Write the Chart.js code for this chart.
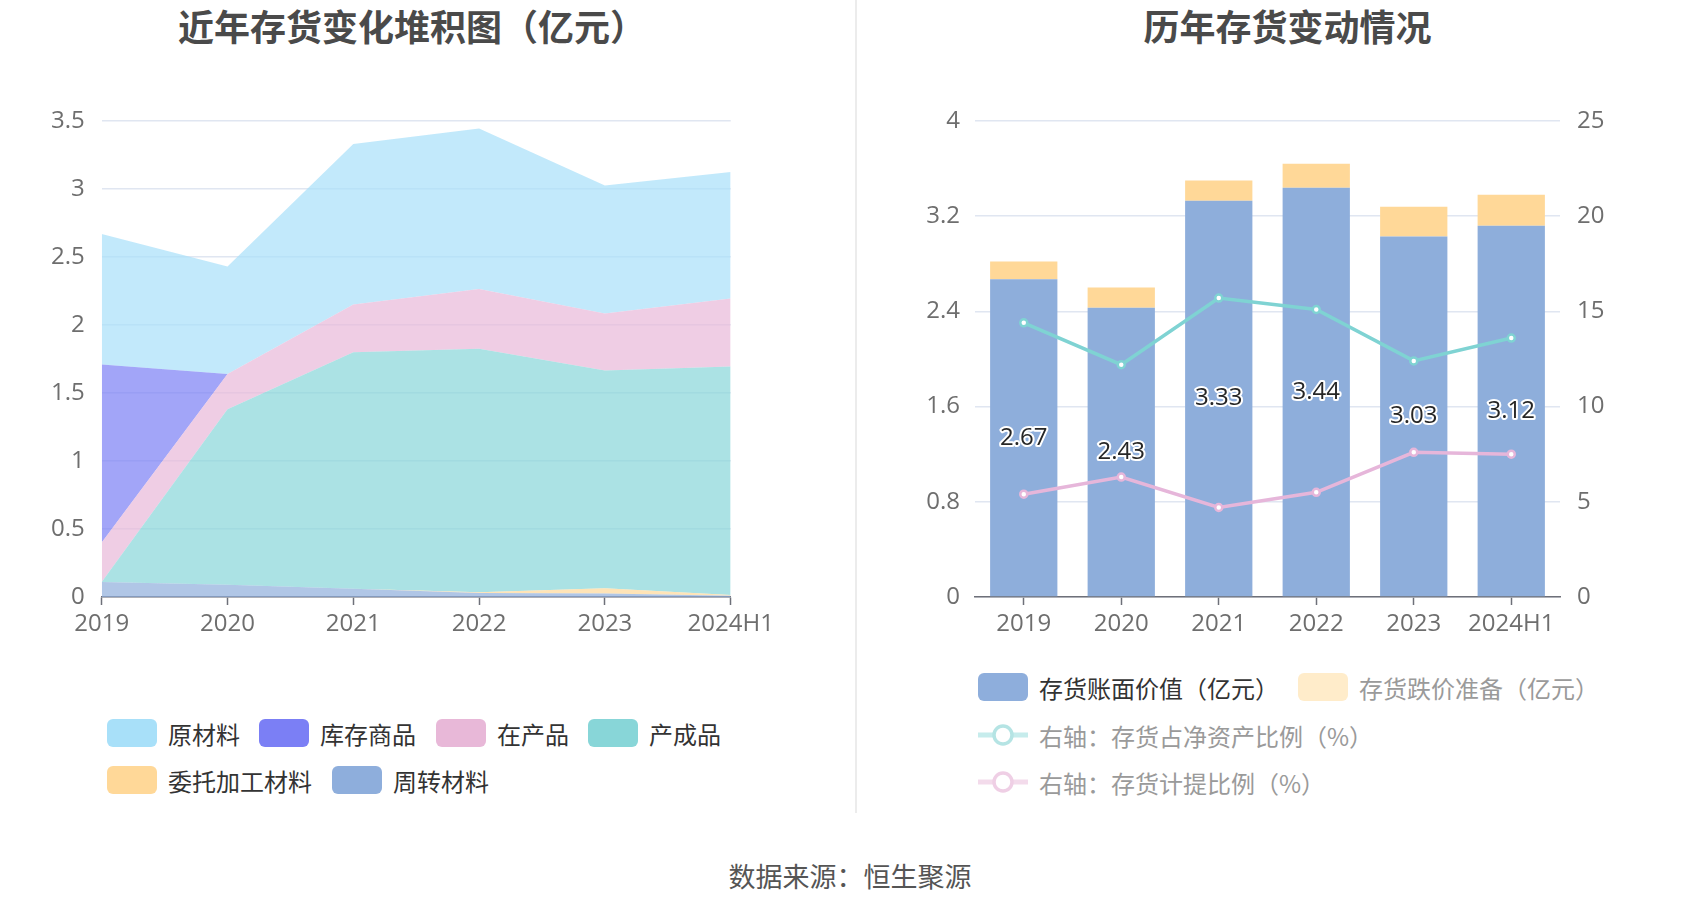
<!DOCTYPE html>
<html>
<head>
<meta charset="utf-8">
<script src="https://cdn.jsdelivr.net/npm/chart.js@4.4.1/dist/chart.umd.min.js"></script>
<style>
    html, body { margin: 0; padding: 0; background: #fff; }
    body { width: 1700px; height: 918px; position: relative; overflow: hidden;
           font-family: "Noto Sans CJK SC", "Open Sans", sans-serif; }
    .title { position: absolute; top: 0; height: 50px; line-height: 50px; text-align: center;
             font-size: 36px; font-weight: bold; color: #4a4a4a; }
    .chartBox { position: absolute; top: 0; height: 660px; }
    .divider { position: absolute; left: 855px; top: 0; width: 1.5px; height: 813px; background: #ececec; }
    .item { position: absolute; height: 30px; display: flex; align-items: center;
            font-size: 24px; color: #333; white-space: nowrap; }
    .item .box { width: 50px; height: 28px; border-radius: 6px; margin-right: 11px; }
    .item svg { margin-right: 11px; }
    .faded { color: #9a9a9a; }
    .source { position: absolute; left: 0; width: 1700px; top: 856px; text-align: center;
              font-size: 27px; color: #555; }
</style>
</head>
<body>
<div class="title" style="left:0;width:824px;">近年存货变化堆积图（亿元）</div>
<div class="title" style="left:875px;width:825px;">历年存货变动情况</div>
<div class="chartBox" style="left:0;width:855px;"><canvas id="stackChart"></canvas></div>
<div class="chartBox" style="left:855px;width:845px;"><canvas id="changeChart"></canvas></div>
<div class="divider"></div>

<div class="item" style="left:107px;top:718px;"><span class="box" style="background:#a8e0f9"></span>原材料</div>
<div class="item" style="left:259px;top:718px;"><span class="box" style="background:#7b7ff5"></span>库存商品</div>
<div class="item" style="left:436px;top:718px;"><span class="box" style="background:#e8b8d8"></span>在产品</div>
<div class="item" style="left:588px;top:718px;"><span class="box" style="background:#88d6d8"></span>产成品</div>
<div class="item" style="left:107px;top:765px;"><span class="box" style="background:#ffd898"></span>委托加工材料</div>
<div class="item" style="left:332px;top:765px;"><span class="box" style="background:#8eaedc"></span>周转材料</div>

<div class="item" style="left:978px;top:672px;"><span class="box" style="background:#8eaedc"></span>存货账面价值（亿元）</div>
<div class="item faded" style="left:1298px;top:672px;"><span class="box" style="background:#ffecca"></span>存货跌价准备（亿元）</div>
<div class="item faded" style="left:978px;top:720px;">
    <svg width="50" height="30"><line x1="0" y1="15" x2="50" y2="15" stroke="#c6ecec" stroke-width="5"/><circle cx="25" cy="15" r="9" fill="#fff" stroke="#b5e4e4" stroke-width="3.5"/></svg>右轴：存货占净资产比例（%）</div>
<div class="item faded" style="left:978px;top:767px;">
    <svg width="50" height="30"><line x1="0" y1="15" x2="50" y2="15" stroke="#f3dbeb" stroke-width="5"/><circle cx="25" cy="15" r="9" fill="#fff" stroke="#efcfe5" stroke-width="3.5"/></svg>右轴：存货计提比例（%）</div>

<div class="source">数据来源：恒生聚源</div>

<script>
// categories
const years = ["2019", "2020", "2021", "2022", "2023", "2024H1"];

// left chart: inventory composition (亿元)
const rawMaterial = [0.96, 0.79, 1.18, 1.18, 0.94, 0.93];
const merchandise = [1.31, 0, 0, 0, 0, 0];
const workInProgress = [0.29, 0.26, 0.35, 0.44, 0.42, 0.50];
const finishedGoods = [0.00, 1.29, 1.74, 1.79, 1.60, 1.68];
const consignedMaterial = [0, 0, 0, 0.005, 0.04, 0.005];
const turnoverMaterial = [0.11, 0.09, 0.06, 0.03, 0.025, 0.01];

// right chart
const bookValue = [2.67, 2.43, 3.33, 3.44, 3.03, 3.12];
const provision = [0.15, 0.17, 0.17, 0.20, 0.25, 0.26];
const netAssetRatio = [14.4, 12.2, 15.7, 15.1, 12.4, 13.6];
const provisionRatio = [5.4, 6.3, 4.7, 5.5, 7.6, 7.5];

const tickFont = { family: '"Open Sans", "Noto Sans CJK SC", sans-serif', size: 24 };
const tickColor = "#6e6e6e";
const gridColor = "#e0e6f1";
const axisColor = "#6e7079";

function fmt(v) {
    return String(parseFloat(Number(v).toFixed(2)));
}

function area(label, data, color, fill) {
    return {
        label: label,
        data: data,
        backgroundColor: color,
        borderWidth: 0,
        pointRadius: 0,
        fill: fill,
        tension: 0
    };
}

document.addEventListener("DOMContentLoaded", function () {
    Chart.defaults.animation = false;

    new Chart(document.getElementById("stackChart").getContext("2d"), {
        type: "line",
        data: {
            labels: years,
            datasets: [
                area("周转材料", turnoverMaterial, "rgba(142,174,220,0.7)", "origin"),
                area("委托加工材料", consignedMaterial, "rgba(255,216,152,0.7)", "-1"),
                area("产成品", finishedGoods, "rgba(136,214,216,0.7)", "-1"),
                area("在产品", workInProgress, "rgba(232,184,216,0.7)", "-1"),
                area("库存商品", merchandise, "rgba(123,127,245,0.7)", "-1"),
                area("原材料", rawMaterial, "rgba(168,224,249,0.7)", "-1")
            ]
        },
        options: {
            responsive: true,
            maintainAspectRatio: false,
            layout: { padding: { left: 0, top: 121, right: 124.3, bottom: 0 } },
            scales: {
                x: {
                    offset: false,
                    afterFit: s => { s.height = 63; },
                    grid: { drawOnChartArea: false, offset: false, tickColor: axisColor, tickLength: 8, tickWidth: 1.5 },
                    border: { color: axisColor, width: 1.5 },
                    ticks: { color: tickColor, font: tickFont, padding: 5, maxRotation: 0, autoSkip: false }
                },
                y: {
                    stacked: true,
                    min: 0,
                    max: 3.5,
                    afterFit: s => { s.width = 101.7; },
                    grid: { color: gridColor, lineWidth: 1.5, drawTicks: false },
                    border: { display: false },
                    ticks: { stepSize: 0.5, color: tickColor, font: tickFont, padding: 17, callback: fmt }
                }
            },
            plugins: { legend: { display: false }, tooltip: { enabled: false } }
        }
    });

    const barLabels = {
        id: "barLabels",
        afterDatasetsDraw(chart) {
            const meta = chart.getDatasetMeta(0);
            const ctx = chart.ctx;
            ctx.save();
            ctx.font = '24px "Open Sans", sans-serif';
            ctx.textAlign = "center";
            ctx.textBaseline = "middle";
            ctx.lineWidth = 4;
            ctx.lineJoin = "round";
            ctx.strokeStyle = "#fff";
            ctx.fillStyle = "#262626";
            meta.data.forEach((bar, i) => {
                const y = (bar.y + bar.base) / 2;
                const text = bookValue[i].toFixed(2);
                ctx.strokeText(text, bar.x, y);
                ctx.fillText(text, bar.x, y);
            });
            ctx.restore();
        }
    };

    new Chart(document.getElementById("changeChart").getContext("2d"), {
        type: "bar",
        data: {
            labels: years,
            datasets: [
                {
                    label: "存货账面价值（亿元）",
                    data: bookValue,
                    backgroundColor: "#8eaedb",
                    yAxisID: "y",
                    order: 2,
                    barPercentage: 0.69,
                    categoryPercentage: 1
                },
                {
                    label: "存货跌价准备（亿元）",
                    data: provision,
                    backgroundColor: "#ffd898",
                    yAxisID: "y",
                    order: 2,
                    barPercentage: 0.69,
                    categoryPercentage: 1
                },
                {
                    type: "line",
                    label: "右轴：存货占净资产比例（%）",
                    data: netAssetRatio,
                    borderColor: "#7fd3d3",
                    backgroundColor: "#fff",
                    borderWidth: 3.5,
                    pointRadius: 3.5,
                    pointBorderWidth: 2.5,
                    pointBackgroundColor: "#fff",
                    pointBorderColor: "#7fd3d3",
                    yAxisID: "y1",
                    order: 1
                },
                {
                    type: "line",
                    label: "右轴：存货计提比例（%）",
                    data: provisionRatio,
                    borderColor: "#e6b6da",
                    backgroundColor: "#fff",
                    borderWidth: 3.5,
                    pointRadius: 3.5,
                    pointBorderWidth: 2.5,
                    pointBackgroundColor: "#fff",
                    pointBorderColor: "#e6b6da",
                    yAxisID: "y1",
                    order: 1
                }
            ]
        },
        options: {
            responsive: true,
            maintainAspectRatio: false,
            layout: { padding: { left: 0, top: 121, right: 0, bottom: 0 } },
            scales: {
                x: {
                    stacked: true,
                    afterFit: s => { s.height = 63; },
                    grid: { drawOnChartArea: false, offset: false, tickColor: axisColor, tickLength: 8, tickWidth: 1.5 },
                    border: { color: axisColor, width: 1.5 },
                    ticks: { color: tickColor, font: tickFont, padding: 5, maxRotation: 0, autoSkip: false }
                },
                y: {
                    stacked: true,
                    position: "left",
                    min: 0,
                    max: 4,
                    afterFit: s => { s.width = 120; },
                    grid: { color: gridColor, lineWidth: 1.5, drawTicks: false },
                    border: { display: false },
                    ticks: { stepSize: 0.8, color: tickColor, font: tickFont, padding: 15, callback: fmt }
                },
                y1: {
                    position: "right",
                    min: 0,
                    max: 25,
                    afterFit: s => { s.width = 140; },
                    grid: { drawOnChartArea: false, drawTicks: false },
                    border: { display: false },
                    ticks: { stepSize: 5, color: tickColor, font: tickFont, padding: 17, callback: fmt }
                }
            },
            plugins: { legend: { display: false }, tooltip: { enabled: false } }
        },
        plugins: [barLabels]
    });
});
</script>
</body>
</html>
